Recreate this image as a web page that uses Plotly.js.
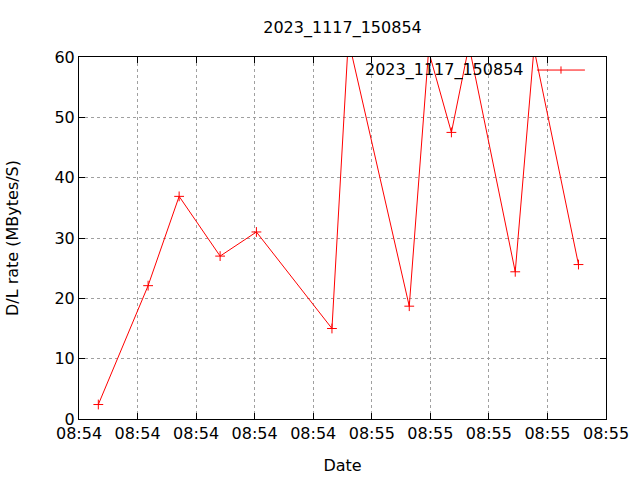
<!DOCTYPE html>
<html>
<head>
<meta charset="utf-8">
<script src="https://cdn.plot.ly/plotly-3.0.1.min.js"></script>
<style>body{margin:0;padding:0;background:#fff;}#chart{width:640px;height:480px;}</style>
</head>
<body>
<div id="chart"></div>
<script>
var seriesName = '2023_1117_150854';
var times = [
  '2023-11-17 08:54:13.3', '2023-11-17 08:54:21.8', '2023-11-17 08:54:27.1',
  '2023-11-17 08:54:34.1', '2023-11-17 08:54:40.3', '2023-11-17 08:54:53.2',
  '2023-11-17 08:54:56.0', '2023-11-17 08:55:06.4', '2023-11-17 08:55:09.7',
  '2023-11-17 08:55:13.6', '2023-11-17 08:55:16.6', '2023-11-17 08:55:24.5',
  '2023-11-17 08:55:27.7', '2023-11-17 08:55:35.3'
];
var rates = [2.4, 22.1, 36.9, 27.0, 31.0, 15.0, 62.9, 18.7, 61.0, 47.5, 61.9, 24.4, 61.4, 25.6];
var xRange = ['2023-11-17 08:54:10', '2023-11-17 08:55:40'];
var yTicks = [0, 10, 20, 30, 40, 50, 60];

var font = {family: 'DejaVu Sans, sans-serif', size: 16, color: '#000'};

var trace = {
  x: times, y: rates, type: 'scatter', mode: 'lines+markers', name: seriesName,
  line: {color: '#ff0000', width: 1},
  marker: {symbol: 'cross-thin', size: 7, line: {color: '#ff0000', width: 1}, color: '#ff0000'},
  showlegend: false
};

var axisCommon = {
  showline: true, linecolor: '#000', linewidth: 1, mirror: 'ticks',
  ticks: 'inside', ticklen: 6, tickcolor: '#000',
  showgrid: true, gridcolor: '#a0a0a0', gridwidth: 1, griddash: 'dot',
  zeroline: false, tickfont: font
};

var layout = {
  width: 640, height: 480,
  margin: {l: 79, r: 34, t: 57, b: 61},
  paper_bgcolor: '#fff', plot_bgcolor: '#fff',
  font: font,
  title: {text: seriesName, font: font, x: 0.5, xref: 'paper', y: 1 - 27/480, yref: 'container', yanchor: 'middle'},
  xaxis: Object.assign({}, axisCommon, {
    type: 'date', range: xRange, dtick: 10000, tick0: xRange[0], tickformat: '%H:%M',
    title: {text: 'Date', font: font, standoff: 17}
  }),
  yaxis: Object.assign({}, axisCommon, {
    range: [0, 60], tickvals: yTicks, ticktext: yTicks.map(String),
    title: {text: 'D/L rate (MBytes/S)', font: font, standoff: 31}
  }),
  annotations: [{
    xref: 'paper', yref: 'paper', x: 0.848, y: 0.964, xanchor: 'right', yanchor: 'middle',
    text: seriesName, showarrow: false, font: font
  }],
  shapes: [
    {type: 'line', xref: 'paper', yref: 'paper', x0: 0.869, x1: 0.960, y0: 0.964, y1: 0.964, line: {color: '#ff0000', width: 1}},
    {type: 'line', xref: 'paper', yref: 'paper', x0: 0.9146, x1: 0.9146, y0: 0.954, y1: 0.974, line: {color: '#ff0000', width: 1}}
  ]
};

Plotly.newPlot('chart', [trace], layout, {staticPlot: true, displayModeBar: false});
</script>
</body>
</html>
